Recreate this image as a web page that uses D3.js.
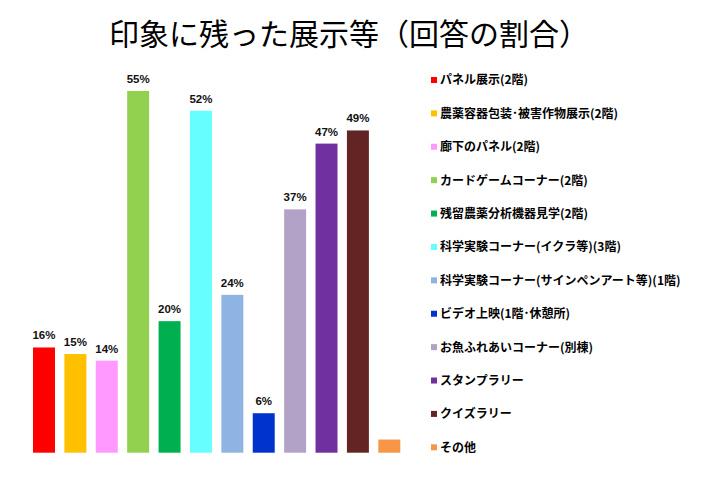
<!DOCTYPE html>
<html><head><meta charset="utf-8">
<script src="https://cdn.jsdelivr.net/npm/d3@7/dist/d3.min.js"></script>
<style>body{margin:0;background:#fff}</style>
</head><body>
<svg id="c" width="701" height="482"></svg>
<script>
const categories = ["パネル展示(2階)","農薬容器包装･被害作物展示(2階)","廊下のパネル(2階)","カードゲームコーナー(2階)","残留農薬分析機器見学(2階)","科学実験コーナー(イクラ等)(3階)","科学実験コーナー(サインペンアート等)(1階)","ビデオ上映(1階･休憩所)","お魚ふれあいコーナー(別棟)","スタンプラリー","クイズラリー","その他"];
const values = [16,15,14,55,20,52,24,6,37,47,49,2];
const showLabel = [true,true,true,true,true,true,true,true,true,true,true,false];
const colors = ["#ff0000","#ffc000","#ff99ff","#92d050","#00b050","#66ffff","#8eb4e3","#0033cc","#b3a2c7","#7030a0","#632523","#f79646"];

const svg = d3.select("#c");
svg.append("text").attr("x",349).attr("y",45).attr("text-anchor","middle")
  .attr("font-family","'Noto Sans CJK JP'").attr("font-size",30).attr("fill","#000")
  .text("印象に残った展示等（回答の割合）");

const x = d3.scaleBand().domain(d3.range(categories.length)).range([28.3,405]).paddingInner(0.3).paddingOuter(0.15);
const y = d3.scaleLinear().domain([0,55]).range([452.7,91]);

svg.selectAll("rect.bar").data(values).join("rect").attr("class","bar")
  .attr("x",(d,i)=>x(i)).attr("width",x.bandwidth())
  .attr("y",d=>y(d)).attr("height",d=>y(0)-y(d))
  .attr("fill",(d,i)=>colors[i]);

svg.selectAll("text.lbl").data(values).join("text").attr("class","lbl")
  .filter((d,i)=>showLabel[i])
  .attr("x",(d,i)=>x(i)+x.bandwidth()/2).attr("y",d=>y(d)-8)
  .attr("text-anchor","middle").attr("font-family","'Liberation Sans',Arial").attr("font-weight","bold")
  .attr("font-size",11.5).attr("fill","#111").text(d=>d+"%");

const ly = d3.scaleBand().domain(d3.range(categories.length)).range([63.3,464]);
const lg = svg.append("g");
categories.forEach((c,i)=>{
  const cy = ly(i)+ly.bandwidth()/2;
  lg.append("rect").attr("x",431).attr("y",cy-3).attr("width",6).attr("height",6).attr("fill",colors[i]);
  lg.append("text").attr("x",440).attr("y",cy+4.5).attr("font-family","'Noto Sans CJK JP'").attr("font-weight","bold")
    .attr("font-size",12).attr("fill","#000").text(c);
});
</script>
</body></html>
